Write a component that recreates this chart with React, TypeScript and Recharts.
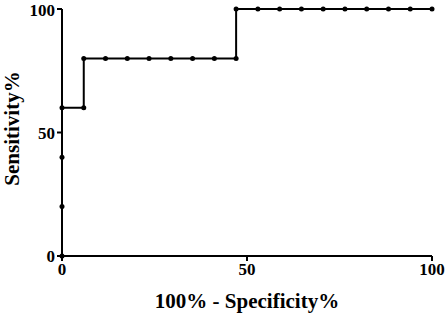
import React from "react";
import { LineChart, Line, XAxis, YAxis } from "recharts";

const fpr = [0, 0, 0, 0, 5.88, 5.88, 11.76, 17.65, 23.53, 29.41, 35.29, 41.18, 47.06, 47.06, 52.94, 58.82, 64.71, 70.59, 76.47, 82.35, 88.24, 94.12, 100];
const sensitivity = [0, 20, 40, 60, 60, 80, 80, 80, 80, 80, 80, 80, 80, 100, 100, 100, 100, 100, 100, 100, 100, 100, 100];
const xTicks = [0, 50, 100];
const yTicks = [0, 50, 100];

const data = fpr.map((x, i) => ({ x, y: sensitivity[i] }));

const font = "'Liberation Serif', 'Times New Roman', serif";

export default function App() {
  return (
    <div style={{ position: "absolute", left: 0, top: 0, width: 447, height: 318, background: "#fff" }}>
      <LineChart width={447} height={318} data={data} margin={{ top: 9, right: 15, bottom: 0, left: 0 }}>
        <XAxis
          type="number"
          dataKey="x"
          domain={[0, 100]}
          ticks={xTicks}
          height={62}
          stroke="#000"
          strokeWidth={2}
          tickSize={5}
          tick={{ fill: "#000", fontFamily: font, fontWeight: "bold", fontSize: 17 }}
          label={{ value: "100% - Specificity%", position: "insideBottom", offset: 10, fill: "#000", fontFamily: font, fontWeight: "bold", fontSize: 21 }}
        />
        <YAxis
          type="number"
          dataKey="y"
          domain={[0, 100]}
          ticks={yTicks}
          width={62}
          stroke="#000"
          strokeWidth={2}
          tickSize={5}
          tick={{ fill: "#000", fontFamily: font, fontWeight: "bold", fontSize: 17 }}
          label={{ value: "Sensitivity%", angle: -90, position: "insideLeft", offset: 12, dy: -4, fill: "#000", fontFamily: font, fontWeight: "bold", fontSize: 21, textAnchor: "middle" }}
        />
        <Line
          type="linear"
          dataKey="y"
          stroke="#000"
          strokeWidth={2}
          dot={{ r: 2.5, fill: "#000", stroke: "#000", strokeWidth: 0 }}
          isAnimationActive={false}
        />
      </LineChart>
    </div>
  );
}
